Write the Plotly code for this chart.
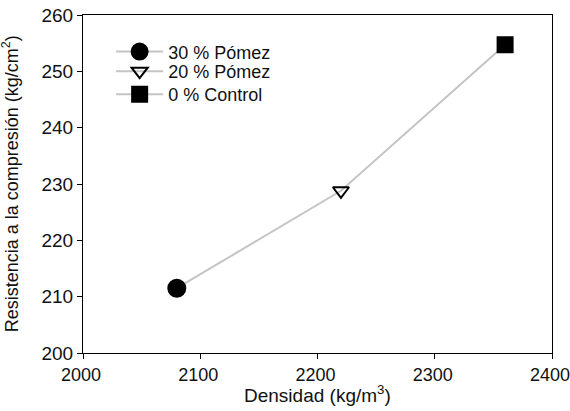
import plotly.graph_objects as go

series_names = ["30 % Pómez", "20 % Pómez", "0 % Control"]
densidad = [2080, 2220, 2360]
resistencia = [211.5, 228.8, 254.7]
symbols = ["circle", "triangle-down-open", "square"]
sizes = [17, 14, 15]

x_ticks = [2000, 2100, 2200, 2300, 2400]
y_ticks = [200, 210, 220, 230, 240, 250, 260]

legend_ids = ["legend", "legend2", "legend3"]
legend_y = [0.891, 0.833, 0.765]

fig = go.Figure()
fig.add_trace(go.Scatter(x=densidad, y=resistencia, mode="lines",
                         line=dict(color="#c4c4c4", width=2), showlegend=False,
                         hoverinfo="skip"))
for name, xv, yv, sym, sz, lid in zip(series_names, densidad, resistencia, symbols, sizes, legend_ids):
    fig.add_trace(go.Scatter(x=[xv], y=[yv], mode="lines+markers", name=name,
                             legend=lid,
                             line=dict(color="#c4c4c4", width=2),
                             marker=dict(symbol=sym, size=sz, color="black",
                                         line=dict(color="black", width=2))))

axis_common = dict(showgrid=False, zeroline=False, showline=True, linecolor="black",
                   linewidth=1, mirror=True, ticks="outside", ticklen=5,
                   tickcolor="black", ticklabeloverflow="allow", automargin=False)

leg_common = dict(x=0.06, xanchor="left", yanchor="middle",
                  font=dict(size=18, color="#111"), bgcolor="rgba(0,0,0,0)",
                  itemwidth=47)

fig.update_layout(
    width=570, height=411,
    margin=dict(l=83, r=18, t=15, b=58, autoexpand=False),
    paper_bgcolor="white", plot_bgcolor="white",
    font=dict(family="Liberation Sans, Arial, sans-serif", color="#111"),
    xaxis=dict(range=[2000, 2400], tickvals=x_ticks,
               tickfont=dict(size=18, color="#111"), ticklabelshift=-2,
               **axis_common),
    yaxis=dict(range=[200, 260], tickvals=y_ticks,
               tickfont=dict(size=19, color="#111"), **axis_common),
    legend=dict(y=legend_y[0], **leg_common),
    legend2=dict(y=legend_y[1], **leg_common),
    legend3=dict(y=legend_y[2], **leg_common),
    annotations=[
        dict(text="Resistencia a la compresión (kg/cm<sup>2</sup>)",
             xref="paper", yref="paper", x=-0.155, y=0.5,
             xanchor="center", yanchor="middle", textangle=-90,
             showarrow=False, font=dict(size=18, color="#111")),
        dict(text="Densidad (kg/m<sup>3</sup>)",
             xref="paper", yref="paper", x=0.5, y=-0.12,
             xanchor="center", yanchor="middle",
             showarrow=False, font=dict(size=19, color="#111")),
    ],
)

fig.write_html("out.html")
